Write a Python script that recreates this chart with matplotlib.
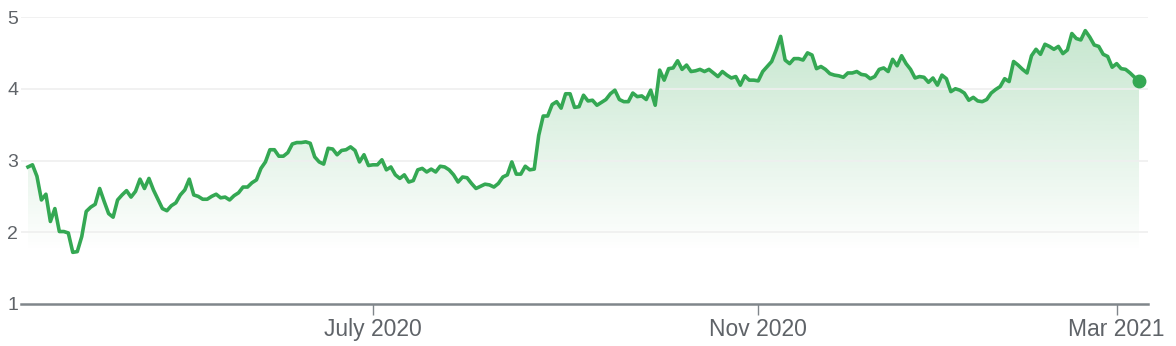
import numpy as np
import pandas as pd
import matplotlib
matplotlib.use('Agg')
import matplotlib.pyplot as plt
from matplotlib.colors import to_rgb

plt.rcParams['font.family'] = ['Liberation Sans', 'DejaVu Sans']

# daily closes (first trading day 2020-03-12)
start_date = '2020-03-12'
holidays = ['2020-04-10', '2020-05-25', '2020-07-03', '2020-09-07', '2020-11-26',
            '2020-12-25', '2021-01-01', '2021-01-18', '2021-02-15']

prices = [
    2.91, 2.94, 2.78, 2.45, 2.53, 2.15, 2.33, 2.01, 2.01, 1.99,
    1.72, 1.73, 1.94, 2.29, 2.35, 2.39, 2.61, 2.43, 2.26, 2.21,
    2.45, 2.52, 2.58, 2.49, 2.57, 2.74, 2.61, 2.75, 2.59, 2.46,
    2.33, 2.30, 2.37, 2.41, 2.52, 2.59, 2.74, 2.52, 2.50, 2.46,
    2.46, 2.50, 2.53, 2.48, 2.49, 2.45, 2.51, 2.55, 2.63, 2.63,
    2.69, 2.73, 2.89, 2.98, 3.15, 3.15, 3.06, 3.06, 3.11, 3.23,
    3.25, 3.25, 3.26, 3.24, 3.05, 2.98, 2.95, 3.17, 3.16, 3.08,
    3.14, 3.15, 3.19, 3.14, 2.98, 3.08, 2.93, 2.94, 2.94, 3.01,
    2.87, 2.91, 2.80, 2.75, 2.80, 2.70, 2.72, 2.87, 2.89, 2.84,
    2.88, 2.84, 2.92, 2.91, 2.87, 2.80, 2.70, 2.77, 2.76, 2.68,
    2.61, 2.64, 2.67, 2.66, 2.63, 2.68, 2.77, 2.80, 2.98, 2.81,
    2.81, 2.92, 2.87, 2.88, 3.35, 3.62, 3.62, 3.78, 3.82, 3.73,
    3.93, 3.93, 3.74, 3.75, 3.91, 3.83, 3.84, 3.77, 3.81, 3.85,
    3.93, 3.98, 3.85, 3.82, 3.82, 3.94, 3.89, 3.90, 3.85, 3.98,
    3.77, 4.26, 4.12, 4.28, 4.29, 4.39, 4.27, 4.33, 4.24, 4.25,
    4.27, 4.24, 4.27, 4.22, 4.17, 4.24, 4.19, 4.15, 4.17, 4.05,
    4.18, 4.12, 4.12, 4.11, 4.24, 4.31, 4.38, 4.54, 4.73, 4.40,
    4.35, 4.42, 4.42, 4.40, 4.50, 4.47, 4.28, 4.31, 4.27, 4.21,
    4.19, 4.18, 4.16, 4.22, 4.22, 4.24, 4.20, 4.19, 4.14, 4.17,
    4.27, 4.29, 4.24, 4.41, 4.32, 4.46, 4.35, 4.27, 4.15, 4.17,
    4.16, 4.09, 4.15, 4.05, 4.19, 4.14, 3.96, 4.00, 3.98, 3.94,
    3.84, 3.88, 3.83, 3.82, 3.85, 3.94, 3.99, 4.03, 4.14, 4.10,
    4.38, 4.33, 4.27, 4.22, 4.46, 4.55, 4.48, 4.62, 4.59, 4.55,
    4.59, 4.49, 4.54, 4.77, 4.70, 4.68, 4.81, 4.72, 4.61, 4.59,
    4.48, 4.45, 4.30, 4.35, 4.28, 4.27, 4.22, 4.16, 4.11,
]

tick_months = ['2020-07', '2020-11', '2021-03']
tick_labels = ['July 2020', 'Nov 2020', 'Mar 2021']
y_ticks = [1, 2, 3, 4, 5]

green = '#34a853'
grey_text = '#5f6368'
axis_grey = '#80868b'

dates = pd.date_range(start_date, periods=len(prices),
                      freq=pd.offsets.CustomBusinessDay(holidays=holidays))
x = np.arange(len(prices))
y = np.array(prices)
months = dates.strftime('%Y-%m')
tick_pos = [int(np.argmax(months == m)) for m in tick_months]

W, H = 1176, 346
fig = plt.figure(figsize=(W / 100, H / 100), dpi=100)
ax = fig.add_axes([21 / W, 42 / H, (1148 - 21) / W, (304 - 17) / H])

# gradient fill under the line
fill = ax.fill_between(x, y, 1, color='none', lw=0)
rgba = np.zeros((256, 1, 4))
rgba[..., :3] = to_rgb(green)
rgba[..., 3] = np.linspace(0.28, 0.0, 256)[:, None]
im = ax.imshow(rgba, aspect='auto', origin='upper', zorder=1,
               extent=[x[0], x[-1], y.min(), y.max()])
im.set_clip_path(fill.get_paths()[0], transform=ax.transData)

ax.plot(x, y, color=green, lw=2.6, zorder=3)
ax.plot(x[-1], y[-1], 'o', color=green, ms=9, zorder=4)

ax.set_xlim(-1.56, 250.0)
ax.set_ylim(1, 5)

for v in y_ticks[1:]:
    ax.axhline(v, color='#efefef', lw=1.2, zorder=2)

for s in ['top', 'right', 'left']:
    ax.spines[s].set_visible(False)
ax.spines['bottom'].set_color(axis_grey)
ax.spines['bottom'].set_linewidth(1.8)
ax.spines['bottom'].set_zorder(5)

ax.set_yticks(y_ticks)
ax.set_yticklabels([str(v) for v in y_ticks])
ax.tick_params(axis='y', length=0, pad=2, labelsize=14, labelcolor=grey_text)
ax.set_xticks(tick_pos)
ax.set_xticklabels(tick_labels)
ax.tick_params(axis='x', length=8, width=1, color=axis_grey, pad=2,
               labelsize=16.5, labelcolor=grey_text)

fig.savefig('out.png', dpi=100)
